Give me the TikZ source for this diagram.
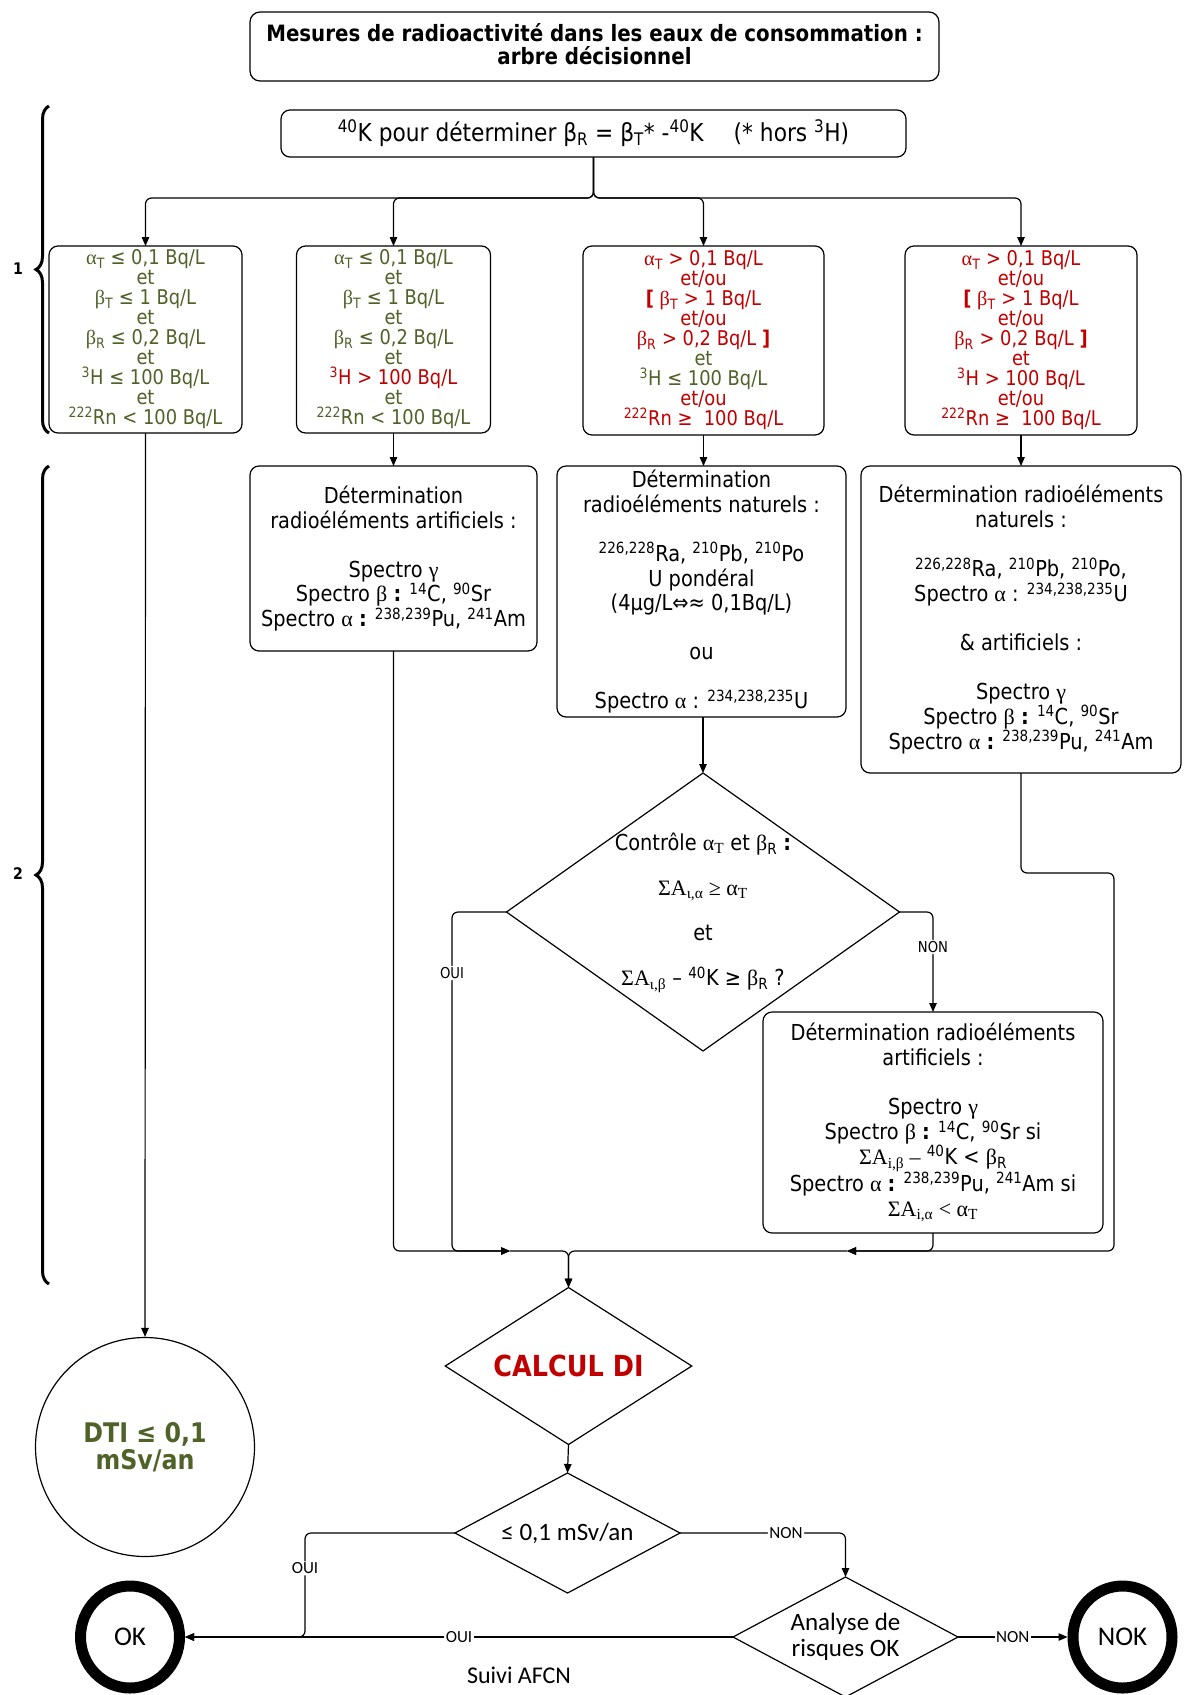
\documentclass[tikz,border=0pt]{standalone}
\usepackage{fontspec}
\setmainfont{DejaVu Sans}[FakeStretch=0.88]
\newfontfamily\tah{DejaVu Sans}[FakeStretch=0.88]
\newfontfamily\tms{Liberation Serif}
\newfontfamily\calib{Carlito}
\usetikzlibrary{shapes.geometric, arrows.meta, decorations.pathreplacing}
\definecolor{grn}{HTML}{4F6228}
\definecolor{rd}{HTML}{C00000}
\newcommand\xa{{\tms α}}
\newcommand\xb{{\tms β}}
\newcommand\xg{{\tms γ}}
\newcommand\rtx[1]{\textcolor{rd}{#1}}
\newcommand\sps[1]{\textsuperscript{#1}}
\newcommand\sbs[1]{\textsubscript{#1}}
\tikzset{
  ln/.style={line width=1.2pt},
  arr/.style={-{Triangle[length=9pt,width=7.5pt]}},
  box/.style={draw, line width=1.2pt, rounded corners=9pt, align=center, inner sep=0pt, outer sep=0pt},
  rowa/.style={box, font=\tah\fontsize{20.3pt}{20pt}\selectfont},
  rowb/.style={box, font=\tah\fontsize{22pt}{24.9pt}\selectfont},
  dia/.style={draw, diamond, line width=1.2pt, inner sep=0pt, outer sep=0pt},
  lbl/.style={fill=white, inner sep=1.5pt, font=\tah\fontsize{15pt}{15pt}\selectfont},
  lblc/.style={fill=white, inner sep=1.5pt, font=\calib\fontsize{17pt}{17pt}\selectfont},
  brc/.style={decorate, decoration={brace, amplitude=13pt}, line width=3pt},
}
\begin{document}
\begin{tikzpicture}[x=1pt, y=-1pt]
\fill[white] (0,0) rectangle (1195,1695);
\useasboundingbox (0,0) rectangle (1195,1695);

% title
\node[box, rounded corners=10pt, minimum width=689pt, minimum height=69pt] (title) at (594.5,46.5) {};
\node[align=center, font=\tah\bfseries\fontsize{22.5pt}{23pt}\selectfont] (titlet) at (594.5,44.5)
  {Mesures de radioactivité dans les eaux de consommation :\\arbre décisionnel};

\node[box, minimum width=625pt, minimum height=47pt, font=\tah\fontsize{24.7pt}{26pt}\selectfont] (k) at (593.5,133.5)
  {\sps{40}K pour déterminer β\sbs{R} = β\sbs{T}* -\sps{40}K\hspace{30pt}(* hors \sps{3}H)};

% braces
\draw[brc] (49,433) -- (49,106);
\draw[brc] (49,1284) -- (49,466);
\node[font=\tah\bfseries\fontsize{16pt}{16pt}\selectfont] (n1) at (18,269) {1};
\node[font=\tah\bfseries\fontsize{16pt}{16pt}\selectfont] (n2) at (18,874) {2};

% row 1
\node[rowa, text=grn, minimum width=193pt, minimum height=187pt] (A) at (145.5,339.5)
  {\xa\sbs{T} ≤ 0,1 Bq/L\\et\\\xb\sbs{T} ≤ 1 Bq/L\\et\\\xb\sbs{R} ≤ 0,2 Bq/L\\et\\\sps{3}H ≤ 100 Bq/L\\et\\\sps{222}Rn < 100 Bq/L};
\node[rowa, text=grn, minimum width=194pt, minimum height=187pt] (B) at (393.5,339.5)
  {\xa\sbs{T} ≤ 0,1 Bq/L\\et\\\xb\sbs{T} ≤ 1 Bq/L\\et\\\xb\sbs{R} ≤ 0,2 Bq/L\\et\\\rtx{\sps{3}H > 100 Bq/L}\\et\\\sps{222}Rn < 100 Bq/L};
\node[rowa, text=grn, minimum width=241pt, minimum height=189pt] (C) at (703.5,340.5)
  {\rtx{\xa\sbs{T} > 0,1 Bq/L}\\\rtx{et/ou}\\\rtx{\textbf{[} \xb\sbs{T} > 1 Bq/L}\\\rtx{et/ou}\\\rtx{\xb\sbs{R} > 0,2 Bq/L \textbf{]}}\\et\\\sps{3}H ≤ 100 Bq/L\\\rtx{et/ou}\\\rtx{\sps{222}Rn ≥~ 100 Bq/L}};
\node[rowa, text=rd, minimum width=232pt, minimum height=189pt] (D) at (1021,340.5)
  {\xa\sbs{T} > 0,1 Bq/L\\et/ou\\\textbf{[} \xb\sbs{T} > 1 Bq/L\\et/ou\\\xb\sbs{R} > 0,2 Bq/L \textbf{]}\\et\\\sps{3}H > 100 Bq/L\\et/ou\\\sps{222}Rn ≥~ 100 Bq/L};

\coordinate (ksplit) at (593.5,198);
\foreach \t in {A,B,C,D} {
  \draw[ln, arr, rounded corners=6pt] (k.south) -- (ksplit) -| (\t.north);
}

% row 2
\node[rowb, minimum width=287pt, minimum height=185pt] (E) at (393.5,558.5)
  {Détermination\\radioéléments artificiels :\\[24pt]Spectro \xg\\Spectro \xb\ \textbf{:} \sps{14}C, \sps{90}Sr\\Spectro \xa\ \textbf{:} \sps{238,239}Pu, \sps{241}Am};
\node[rowb, minimum width=289pt, minimum height=251pt] (F) at (701.5,591.5)
  {Détermination\\radioéléments naturels :\\[24pt]\sps{226,228}Ra, \sps{210}Pb, \sps{210}Po\\U pondéral\\(4µg/L⇔≈ 0,1Bq/L)\\[24pt]ou\\[24pt]Spectro \xa\ : \sps{234,238,235}U};
\node[rowb, minimum width=320pt, minimum height=307pt] (G) at (1021,619.5)
  {Détermination radioéléments\\naturels :\\[24pt]\sps{226,228}Ra, \sps{210}Pb, \sps{210}Po,\\Spectro \xa\ : \sps{234,238,235}U\\[24pt]\& artificiels :\\[24pt]Spectro \xg\\Spectro \xb\ \textbf{:} \sps{14}C, \sps{90}Sr\\Spectro \xa\ \textbf{:} \sps{238,239}Pu, \sps{241}Am};

\draw[ln, arr] (B.south) -- (B.south |- E.north);
\draw[ln, arr] (C.south) -- (C.south |- F.north);
\draw[ln, arr] (D.south) -- (G.north);

% control diamond
\node[dia, minimum width=393pt, minimum height=278pt] (ctrl) at (703,912) {};
\node[align=center, font=\tah\fontsize{22pt}{45pt}\selectfont] (ctrlt) at (703,913)
  {Contrôle {\tms α\sbs{T}} et \xb\sbs{R} \textbf{:}\\{\tms ΣA\sbs{ι,α} ≥ α\sbs{T}}\\et\\{\tms ΣA\sbs{ι,β}} – \sps{40}K ≥ \xb\sbs{R} ?};
\draw[ln, arr] (ctrl.north |- F.south) -- (ctrl.north);

\node[rowb, minimum width=340pt, minimum height=221pt] (H) at (933,1122.5)
  {Détermination radioéléments\\artificiels :\\[24pt]Spectro \xg\\Spectro \xb\ \textbf{:} \sps{14}C, \sps{90}Sr si\\{\tms ΣA\sbs{i,β} –} \sps{40}K < \xb\sbs{R}\\Spectro \xa\ \textbf{:} \sps{238,239}Pu, \sps{241}Am si\\{\tms ΣA\sbs{i,α} < α\sbs{T}}};

\draw[ln, arr, rounded corners=6pt] (ctrl.east) -| node[lbl, pos=0.675] {NON} (H.north);

% merge
\coordinate (mL) at (510,1251);
\coordinate (mR) at (847,1251);
\coordinate (oc) at (452,1251);
\coordinate (g1) at (1114,873);
\coordinate (g2) at (1114,1251);

\node[dia, minimum width=246.5pt, minimum height=157pt] (calc) at (568.5,1366) {};
\node[font=\tah\bfseries\fontsize{29pt}{30pt}\selectfont, text=rd] (calct) at (568.5,1366) {CALCUL DI};

\draw[ln, arr, rounded corners=6pt] (E.south) |- (mL);
\draw[ln, arr, rounded corners=6pt] (ctrl.west) -| node[lbl, pos=0.59] {OUI} (oc) -- (mL);
\draw[ln, arr, rounded corners=6pt] (G.south) |- (g1) -- (g2) -- (mR);
\draw[ln, arr, rounded corners=6pt] (H.south) |- (mR);
\draw[ln, arr, rounded corners=6pt] (mL) -| (calc.north);
\draw[ln, arr, rounded corners=6pt] (mR) -| (calc.north);

% DTI
\node[circle, draw, line width=1.2pt, minimum size=219pt, inner sep=0pt, align=center, text=grn, font=\tah\bfseries\fontsize{27pt}{27pt}\selectfont] (dti) at (145,1447) {DTI ≤ 0,1\\mSv/an};
\draw[ln, arr] (A.south) -- (dti.north);

% bottom
\node[dia, minimum width=225pt, minimum height=120pt] (le) at (567.5,1533) {};
\node[font=\calib\fontsize{25pt}{26pt}\selectfont] (let) at (567.5,1533) {≤ 0,1 mSv/an};
\node[dia, minimum width=225pt, minimum height=120pt] (an) at (845.5,1637) {};
\node[align=center, font=\calib\fontsize{25pt}{26pt}\selectfont] (ant) at (845.5,1637) {Analyse de\\risques OK};

\node[ellipse, draw, line width=11pt, minimum width=99pt, minimum height=102pt, inner sep=0pt, font=\calib\fontsize{27pt}{27pt}\selectfont] (ok) at (130,1637) {OK};
\node[ellipse, draw, line width=11pt, minimum width=99pt, minimum height=102pt, inner sep=0pt, font=\calib\fontsize{27pt}{27pt}\selectfont] (nok) at (1122.5,1637) {NOK};

\coordinate (okc) at (305,1637);
\draw[ln, arr] (calc.south) -- (le.north);
\draw[ln, arr, rounded corners=6pt] (le.west) -| node[lblc, pos=0.67] {OUI} (okc) -- (ok.east);
\draw[ln, arr, rounded corners=6pt] (le.east) -| node[lblc, pos=0.32] {NON} (an.north);
\draw[ln, arr] (an.west) -- node[lblc] {OUI} (ok.east);
\draw[ln, arr] (an.east) -- node[lblc] {NON} (nok.west);

\node[font=\calib\fontsize{24pt}{24pt}\selectfont] (suivi) at (519,1675) {Suivi AFCN};
\end{tikzpicture}
\end{document}
